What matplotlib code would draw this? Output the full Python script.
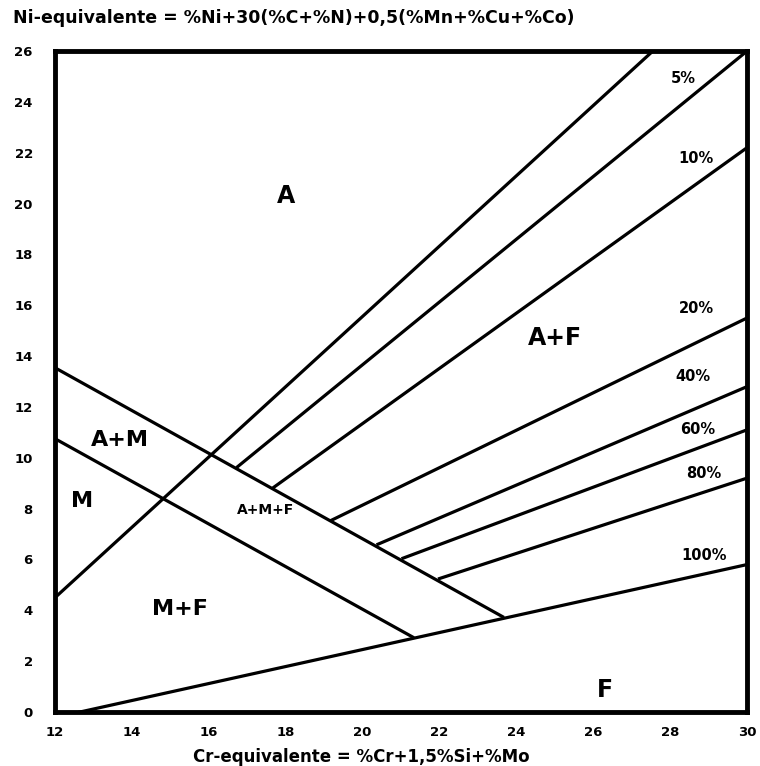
import numpy as np
import matplotlib.pyplot as plt

plt.rcParams['font.family'] = ['DejaVu Sans']
plt.rcParams['font.weight'] = 'bold'

# Austenite boundary
a_line_x = [12, 27.55]
a_line_y = [4.5, 26]
# upper and lower boundary of the A+M+F band
band_upper_x = [12, 23.64]
band_upper_y = [13.54, 3.75]
band_lower_x = [12, 21.3]
band_lower_y = [10.75, 2.95]
# ferrite boundary (100%)
f_line_x = [12.65, 30]
f_line_y = [0, 5.8]

# iso-ferrite lines
ferrite_pct = ["5%", "10%", "20%", "40%", "60%", "80%"]
iso_start_x = [16.75, 17.7, 19.2, 20.4, 21.05, 22.0]
iso_start_y = [9.65, 8.85, 7.55, 6.6, 6.05, 5.25]
iso_end_x = [30, 30, 30, 30, 30, 30]
iso_end_y = [26, 22.2, 15.5, 12.8, 11.1, 9.2]

# percent labels (position in data units)
pct_labels = ["5%", "10%", "20%", "40%", "60%", "80%", "100%"]
pct_label_x = [28.33, 28.67, 28.67, 28.6, 28.72, 28.87, 28.87]
pct_label_y = [24.9, 21.77, 15.87, 13.2, 11.1, 9.4, 6.14]

regions = ["A", "A+F", "A+M", "M", "A+M+F", "M+F", "F"]
region_x = [18.0, 25.0, 13.7, 12.7, 17.47, 15.25, 26.3]
region_y = [20.3, 14.7, 10.7, 8.3, 7.95, 4.05, 0.85]
region_size = [17, 17, 16, 16, 10, 16, 17]

fig = plt.figure(figsize=(7.6, 7.66), dpi=100)
ax = fig.add_axes([0.0724, 0.0705, 0.9106, 0.8629])

lw = 2.3
ax.plot(a_line_x, a_line_y, color="black", lw=lw)
ax.plot(band_upper_x, band_upper_y, color="black", lw=lw)
ax.plot(band_lower_x, band_lower_y, color="black", lw=lw)
ax.plot(f_line_x, f_line_y, color="black", lw=lw)
for i in range(len(ferrite_pct)):
    ax.plot([iso_start_x[i], iso_end_x[i]], [iso_start_y[i], iso_end_y[i]],
            color="black", lw=lw)

for lab, x, y in zip(pct_labels, pct_label_x, pct_label_y):
    ax.text(x, y, lab, ha="center", va="center", fontsize=10.5, fontweight="bold")

for lab, x, y, s in zip(regions, region_x, region_y, region_size):
    ax.text(x, y, lab, ha="center", va="center", fontsize=s, fontweight="bold")

ax.set_xlim(12, 30)
ax.set_ylim(0, 26)
ax.set_xticks(np.arange(12, 31, 2))
ax.set_yticks(np.arange(0, 27, 2))
ax.tick_params(length=0, labelsize=9.5)
ax.tick_params(axis="x", pad=10)
ax.tick_params(axis="y", pad=16)
for lbl in ax.get_xticklabels() + ax.get_yticklabels():
    lbl.set_fontweight("bold")
for sp in ax.spines.values():
    sp.set_linewidth(3.5)

fig.text(0.017, 0.976, "Ni-equivalente = %Ni+30(%C+%N)+0,5(%Mn+%Cu+%Co)",
         ha="left", va="center", fontsize=12.5, fontweight="bold")
fig.text(0.476, 0.012, "Cr-equivalente = %Cr+1,5%Si+%Mo", ha="center",
         va="center", fontsize=12, fontweight="bold")

fig.savefig("out.png", dpi=100)
